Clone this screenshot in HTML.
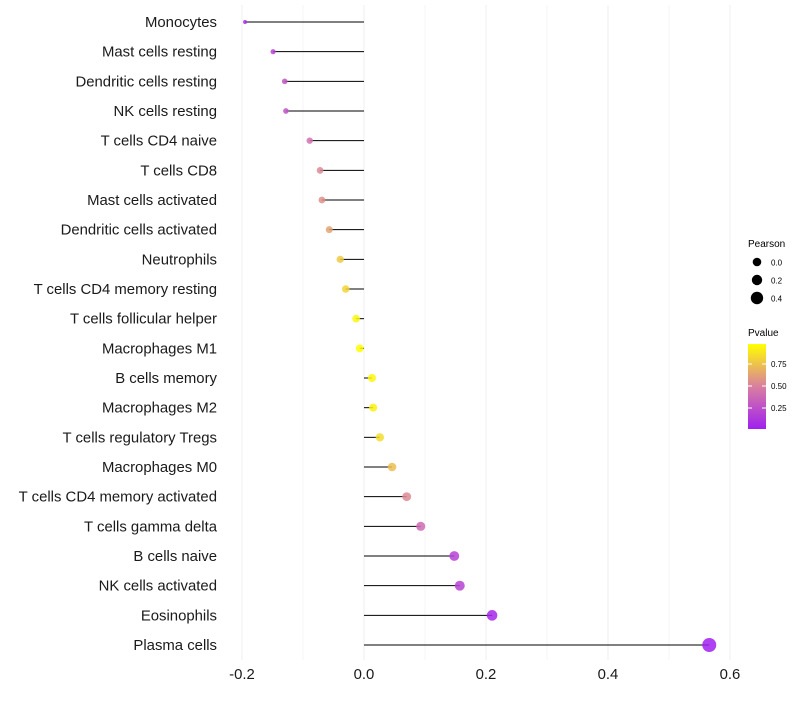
<!DOCTYPE html>
<html><head><meta charset="utf-8"><style>
body{margin:0;background:#fff;font-family:"Liberation Sans",sans-serif}
</style></head><body>
<svg id="chart" width="800" height="700" xmlns="http://www.w3.org/2000/svg" font-family="Liberation Sans, sans-serif">
<defs><linearGradient id="pg" x1="0" y1="1" x2="0" y2="0">
<stop offset="0" stop-color="#A020F0"/><stop offset="0.5" stop-color="#D97FA0"/><stop offset="1" stop-color="#FFFF00"/></linearGradient></defs>
<g id="grid"></g>
<g id="marks"></g>
<g id="ylab"></g>
<g id="xlab"></g>
<g>
<text x="748" y="247" font-size="10" fill="#000">Pearson</text>
<circle cx="757" cy="262" r="4.3" fill="#000"/><text x="771" y="265.5" font-size="8">0.0</text>
<circle cx="757" cy="280" r="5.2" fill="#000"/><text x="771" y="283.5" font-size="8">0.2</text>
<circle cx="757" cy="298" r="6.2" fill="#000"/><text x="771" y="301.5" font-size="8">0.4</text>
</g>
<g>
<text x="748" y="336" font-size="10">Pvalue</text>
<rect x="748" y="344" width="18" height="85" fill="url(#pg)"/>
<line x1="748" y1="364" x2="752" y2="364" stroke="#fff"/><line x1="762" y1="364" x2="766" y2="364" stroke="#fff"/>
<line x1="748" y1="386" x2="752" y2="386" stroke="#fff"/><line x1="762" y1="386" x2="766" y2="386" stroke="#fff"/>
<line x1="748" y1="408" x2="752" y2="408" stroke="#fff"/><line x1="762" y1="408" x2="766" y2="408" stroke="#fff"/>
<text x="771" y="367" font-size="8">0.75</text><text x="771" y="389" font-size="8">0.50</text><text x="771" y="411" font-size="8">0.25</text>
</g>
</svg>
<script>
const categories=["Monocytes","Mast cells resting","Dendritic cells resting","NK cells resting","T cells CD4 naive","T cells CD8","Mast cells activated","Dendritic cells activated","Neutrophils","T cells CD4 memory resting","T cells follicular helper","Macrophages M1","B cells memory","Macrophages M2","T cells regulatory  Tregs ","Macrophages M0","T cells CD4 memory activated","T cells gamma delta","B cells naive","NK cells activated","Eosinophils","Plasma cells"];
const pearson=[-0.195,-0.149,-0.13,-0.128,-0.089,-0.072,-0.069,-0.057,-0.039,-0.03,-0.013,-0.007,0.013,0.015,0.026,0.046,0.07,0.093,0.148,0.157,0.21,0.566];
const pvalue=[0.08,0.2,0.3,0.3,0.45,0.55,0.58,0.65,0.78,0.82,0.94,0.97,0.94,0.92,0.85,0.74,0.55,0.42,0.2,0.2,0.05,0.01];
const xTicks=[-0.2,0,0.2,0.4,0.6];
const xTickLabels=["-0.2","0.0","0.2","0.4","0.6"];
const NS="http://www.w3.org/2000/svg";
const X=v=>364+v*610;
const Y=i=>22+i*29.667;
function mk(tag,attrs,parent){const e=document.createElementNS(NS,tag);for(const k in attrs)e.setAttribute(k,attrs[k]);document.getElementById(parent).appendChild(e);return e;}
function lerp(a,b,t){return a.map((x,i)=>Math.round(x+(b[i]-x)*t));}
function col(p){const t=Math.max(0,Math.min(1,(p-0.01)/0.96));const c=t<0.5?lerp([160,32,240],[215,120,170],t*2):lerp([215,120,170],[255,255,0],(t-0.5)*2);return `rgb(${c})`;}
const pmin=Math.min(...pearson),pmax=Math.max(...pearson);
function rad(v){const t=(v-pmin)/(pmax-pmin);return Math.sqrt(4+45*t);}
for(let i=0;i<9;i++){const v=-0.2+i*0.1;const l=mk('line',{x1:X(v),x2:X(v),y1:5,y2:660,stroke:i%2?'#f6f6f6':'#efefef','stroke-width':1},'grid');

}
categories.forEach((c,i)=>{
const ln=mk('line',{x1:X(0),x2:X(pearson[i]),y1:Y(i),y2:Y(i),stroke:'#000','stroke-width':1},'marks');


const ci=mk('circle',{cx:X(pearson[i]),cy:Y(i),r:rad(pearson[i]),fill:col(pvalue[i]),'fill-opacity':0.85},'marks');


const t=mk('text',{x:217,y:Y(i)+5,'text-anchor':'end','font-size':14.9,fill:'#1a1a1a'},'ylab');t.textContent=c;


});
xTicks.forEach((v,i)=>{const t=mk('text',{x:X(v),y:679,'text-anchor':'middle','font-size':14.9,fill:'#1a1a1a'},'xlab');t.textContent=xTickLabels[i];

});
</script>
</body></html>
